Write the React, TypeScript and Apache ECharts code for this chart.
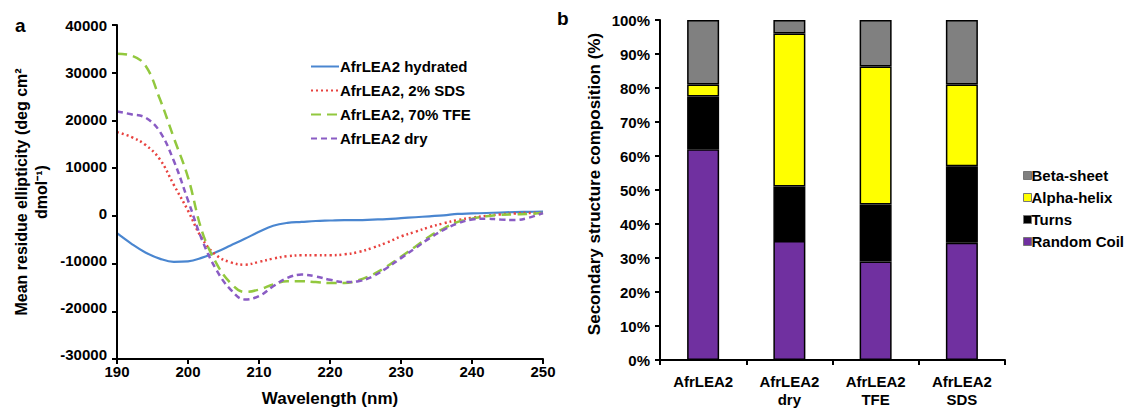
import React, { useEffect, useRef } from "react";
import * as echarts from "echarts";

const wavelengths = [190,192,194,196,198,200,202,204,206,208,210,212,214,216,218,220,222,224,226,228,230,232,234,236,238,240,242,244,246,248,250];
const hydrated = [-4300,-6500,-8400,-9700,-10400,-10300,-9500,-8300,-6900,-5500,-4000,-2700,-2100,-1900,-1700,-1600,-1500,-1500,-1400,-1300,-1100,-900,-700,-500,-200,-100,0,100,200,250,300];
const sds = [17200,16200,14500,11500,6000,500,-5500,-9000,-10500,-11000,-10400,-9700,-9200,-9000,-9000,-9000,-8800,-8300,-7400,-6300,-5000,-4000,-3000,-2200,-1500,-1000,-600,-300,-100,0,0];
const tfe = [33900,33500,31400,24400,16000,7600,-4000,-10700,-14900,-16800,-16300,-15200,-14500,-14500,-14700,-14900,-14900,-14300,-13100,-11400,-9300,-7200,-5000,-3300,-1900,-1200,-700,-400,-300,-200,0];
const dry = [21600,21000,20300,17400,11100,2700,-5800,-12100,-16300,-18400,-17700,-15600,-13800,-13100,-13500,-14200,-14700,-14500,-13500,-11700,-9600,-7500,-5400,-3600,-2200,-1400,-1200,-1400,-1500,-1000,0];
const lineNames = ["AfrLEA2 hydrated", "AfrLEA2, 2% SDS", "AfrLEA2, 70% TFE", "AfrLEA2 dry"];
const xTicks = [190, 200, 210, 220, 230, 240, 250];
const yTicks = [-30000, -20000, -10000, 0, 10000, 20000, 30000, 40000];

const barCategories = ["AfrLEA2", "AfrLEA2\ndry", "AfrLEA2\nTFE", "AfrLEA2\nSDS"];
const randomCoil = [62, 35, 29, 34.5];
const turns = [15.5, 16, 16.7, 22.5];
const alphaHelix = [3.5, 45, 40.6, 24];
const betaSheet = [19, 4, 13.7, 19];
const barLegend = ["Beta-sheet", "Alpha-helix", "Turns", "Random Coil"];

const FONT = "'Liberation Sans', Arial, sans-serif";
const W = 1128;
const H = 412;
const GRID_A = { left: 117, right: 585, top: 25, bottom: 53 };

export default function App() {
  const ref = useRef<HTMLDivElement>(null);
  const ref2 = useRef<HTMLDivElement>(null);
  useEffect(() => {
    if (!ref.current || !ref2.current) return;
    const chart = echarts.init(ref.current, null, { renderer: "svg" });
    const overlay = echarts.init(ref2.current, null, { renderer: "svg" });
    const pair = (ys: number[]) => wavelengths.map((x, i) => [x, ys[i]]);
    const mkLine = () => ({ show: true, onZero: false, lineStyle: { color: "#000", width: 2 } });
    const mkTick = () => ({ show: true, inside: false, length: 5, lineStyle: { color: "#000", width: 2 } });
    const mkLabel = () => ({ color: "#000", fontSize: 15, fontWeight: "bold" as const, fontFamily: FONT });
    const lineSeries = (name: string, data: number[], color: string, type: any, width: number) => ({
      type: "line",
      name,
      xAxisIndex: 0,
      yAxisIndex: 0,
      data: pair(data),
      smooth: 0.4,
      symbol: "none",
      lineStyle: { color, width, type },
      itemStyle: { color },
    });
    const barSeries = (name: string, data: number[], color: string) => ({
      type: "bar",
      name,
      stack: "total",
      xAxisIndex: 1,
      yAxisIndex: 1,
      data,
      barWidth: 32,
      itemStyle: { color, borderColor: "#000", borderWidth: 1.5 },
    });
    // axis frame of panel a, from the grid layout
    const axL = GRID_A.left;
    const axB = H - GRID_A.bottom;
    const axR = W - GRID_A.right;
    const axT = GRID_A.top;
    chart.setOption({
      animation: false,
      textStyle: { fontFamily: FONT },
      grid: [
        { ...GRID_A },
        { left: 660, right: 123, top: 20, bottom: 52 },
      ],
      xAxis: [
        {
          type: "value", gridIndex: 0, min: xTicks[0], max: xTicks[xTicks.length - 1], interval: 10,
          axisLine: { show: false, onZero: false }, axisTick: { show: false }, splitLine: { show: false },
          axisLabel: { ...mkLabel(), margin: 10 },
          name: "Wavelength (nm)", nameLocation: "middle", nameGap: 36,
          nameTextStyle: { ...mkLabel(), fontSize: 17 },
        },
        {
          type: "category", gridIndex: 1, data: barCategories,
          axisLine: mkLine(), axisTick: { ...mkTick(), alignWithLabel: false },
          axisLabel: { ...mkLabel(), margin: 12, lineHeight: 18 },
        },
      ],
      yAxis: [
        {
          type: "value", gridIndex: 0, min: yTicks[0], max: yTicks[yTicks.length - 1], interval: 10000,
          axisLine: { show: false, onZero: false }, axisTick: { show: false }, splitLine: { show: false },
          axisLabel: { ...mkLabel(), margin: 10, formatter: (v: number) => String(v) },
        },
        {
          type: "value", gridIndex: 1, min: 0, max: 100, interval: 10,
          axisLine: mkLine(), axisTick: mkTick(), splitLine: { show: false },
          axisLabel: { ...mkLabel(), margin: 10, formatter: "{value}%" },
        },
      ],
      legend: [
        {
          data: lineNames, orient: "vertical", left: 305, top: 54,
          itemWidth: 28, itemHeight: 14, itemGap: 9,
          itemStyle: { opacity: 0, borderWidth: 0 },
          textStyle: { ...mkLabel(), padding: [0, 0, 0, -4] },
        },
        {
          data: barLegend, orient: "vertical", left: 1018, top: 163,
          itemWidth: 8, itemHeight: 8, itemGap: 7, icon: "rect",
          itemStyle: { borderColor: "#777", borderWidth: 1 },
          textStyle: { ...mkLabel(), padding: [0, 0, 0, -5] },
        },
      ],
      graphic: [
        { type: "text", left: 15, top: 16, style: { text: "a", font: `bold 19px ${FONT}`, fill: "#000" } },
        { type: "text", left: 557, top: 9, style: { text: "b", font: `bold 19px ${FONT}`, fill: "#000" } },
        {
          type: "text", x: 31, y: 192, rotation: Math.PI / 2,
          style: {
            text: "Mean residue ellipticity (deg cm²\ndmol⁻¹)",
            font: `bold 16px ${FONT}`, fill: "#000", align: "center", verticalAlign: "middle", lineHeight: 20,
          },
        },
        {
          type: "text", x: 594, y: 184, rotation: Math.PI / 2,
          style: {
            text: "Secondary structure composition (%)",
            font: `bold 17px ${FONT}`, fill: "#000", align: "center", verticalAlign: "middle",
          },
        },
        { type: "rect", z: 100, shape: { x: axL - 1, y: axT, width: 2, height: axB - axT + 1 }, style: { fill: "#000" } },
        { type: "rect", z: 100, shape: { x: axL - 1, y: axB - 1, width: axR - axL + 1, height: 2 }, style: { fill: "#000" } },
      ],
      series: [
        lineSeries(lineNames[0], hydrated, "#4a86d0", "solid", 2.2),
        lineSeries(lineNames[1], sds, "#e8423f", [2, 3], 2.5),
        lineSeries(lineNames[2], tfe, "#92c83e", [10, 6], 2.5),
        lineSeries(lineNames[3], dry, "#8a5cc4", [6, 4], 2.5),
        barSeries("Random Coil", randomCoil, "#7030a0"),
        barSeries("Turns", turns, "#000000"),
        barSeries("Alpha-helix", alphaHelix, "#ffff00"),
        barSeries("Beta-sheet", betaSheet, "#808080"),
      ],
    });

    // Panel a ticks, drawn by a transparent overlay chart with the same grid.
    overlay.setOption({
      animation: false,
      grid: { ...GRID_A },
      xAxis: {
        type: "category", data: xTicks.map(String), boundaryGap: false,
        axisLine: mkLine(), axisTick: mkTick(), axisLabel: { show: false }, splitLine: { show: false },
      },
      yAxis: {
        type: "value", min: yTicks[0], max: yTicks[yTicks.length - 1], interval: 10000,
        axisLine: mkLine(), axisTick: mkTick(), axisLabel: { show: false }, splitLine: { show: false },
      },
      series: [],
    });
    return () => {
      chart.dispose();
      overlay.dispose();
    };
  }, []);
  return (
    <div style={{ position: "fixed", left: 0, top: 0, width: W, height: H, background: "#fff" }}>
      <div ref={ref} style={{ position: "absolute", left: 0, top: 0, width: W, height: H }} />
      <div ref={ref2} style={{ position: "absolute", left: 0, top: 0, width: W, height: H, pointerEvents: "none" }} />
    </div>
  );
}
